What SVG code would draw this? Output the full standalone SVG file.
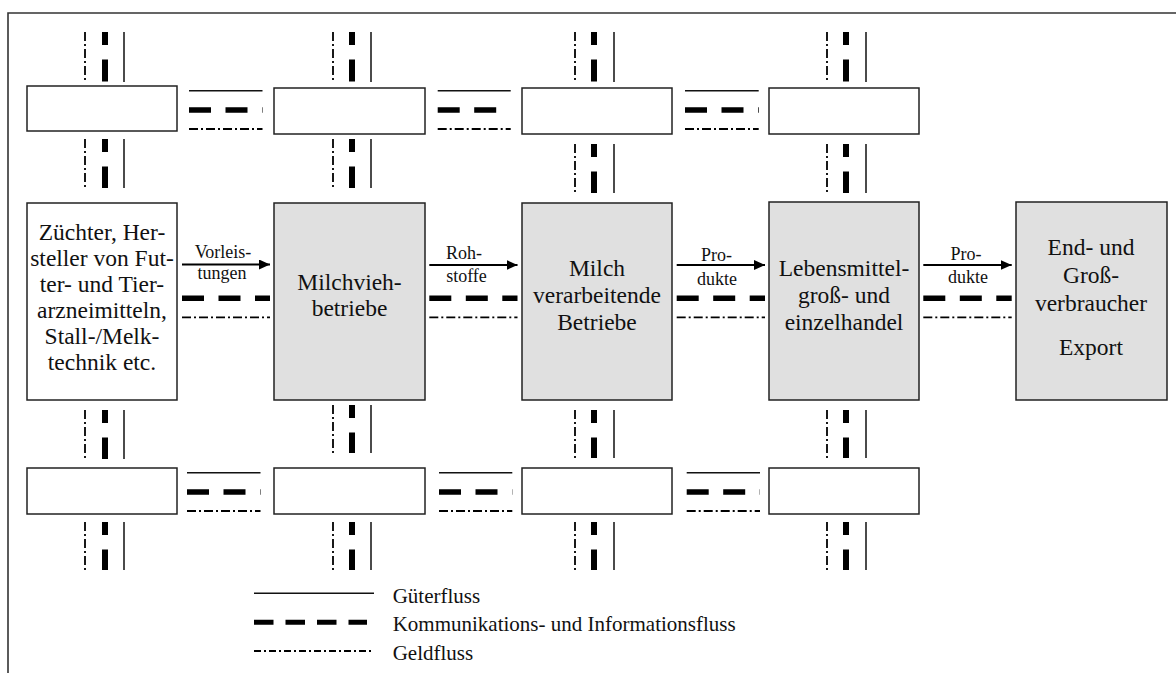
<svg xmlns="http://www.w3.org/2000/svg" width="1176" height="673" viewBox="0 0 1176 673">
<style>
.box{fill:#fff;stroke:#222;stroke-width:1.5}
.gbox{fill:#e0e0e0;stroke:#222;stroke-width:1.5}
.solid{stroke:#111;stroke-width:1.5;fill:none}
.thick{stroke:#000;stroke-width:5.5;stroke-dasharray:22 14.5;fill:none}
.vthick{stroke:#000;stroke-width:6;stroke-dasharray:22 14.5;stroke-dashoffset:9;fill:none}
.dd{stroke:#000;stroke-width:1.8;stroke-dasharray:9 3 2 3;fill:none}
.arr{stroke:#000;stroke-width:2;fill:none;marker-end:url(#ah)}
.t{font-family:"Liberation Serif","Times New Roman",serif;font-size:23.5px;text-anchor:middle;fill:#111}
.l{font-family:"Liberation Serif","Times New Roman",serif;font-size:18px;text-anchor:middle;fill:#111}
.lg{font-family:"Liberation Serif","Times New Roman",serif;font-size:21px;fill:#111}
</style>
<defs>
<marker id="ah" markerWidth="12" markerHeight="10" refX="11" refY="5" orient="auto" markerUnits="userSpaceOnUse"><path d="M0,0 L11,5 L0,10 z" fill="#000"/></marker>
</defs>
<rect width="1176" height="673" fill="#fff"/>
<path d="M8,673 V13 H1176" stroke="#333" stroke-width="1.6" fill="none"/>

<g id="top-a"><rect class="box" x="27" y="86" width="150" height="45"/></g>
<g id="top-b"><rect class="box" x="274" y="88" width="151" height="46"/></g>
<g id="top-c"><rect class="box" x="522" y="88" width="150" height="46"/></g>
<g id="top-d"><rect class="box" x="769" y="88" width="150" height="46"/></g>

<g id="zuechter"><rect class="box" x="27" y="203" width="150" height="197"/>
<text class="t" x="102" y="240">Züchter, Her-</text>
<text class="t" x="102" y="266">steller von Fut-</text>
<text class="t" x="102" y="292">ter- und Tier-</text>
<text class="t" x="102" y="318">arzneimitteln,</text>
<text class="t" x="102" y="344">Stall-/Melk-</text>
<text class="t" x="102" y="370">technik etc.</text></g>
<g id="milchvieh"><rect class="gbox" x="274" y="203" width="151" height="197"/>
<text class="t" x="349.5" y="290">Milchvieh-</text>
<text class="t" x="349.5" y="316">betriebe</text></g>
<g id="verarbeitende"><rect class="gbox" x="522" y="203" width="150" height="197"/>
<text class="t" x="597" y="276">Milch</text>
<text class="t" x="597" y="303">verarbeitende</text>
<text class="t" x="597" y="330">Betriebe</text></g>
<g id="handel"><rect class="gbox" x="769" y="202" width="150" height="198"/>
<text class="t" x="844" y="276">Lebensmittel-</text>
<text class="t" x="844" y="303">groß- und</text>
<text class="t" x="844" y="330">einzelhandel</text></g>
<g id="verbraucher"><rect class="gbox" x="1016" y="202" width="151" height="198"/>
<text class="t" x="1091" y="255">End- und</text>
<text class="t" x="1091" y="283">Groß-</text>
<text class="t" x="1091" y="311">verbraucher</text>
<text class="t" x="1091" y="355">Export</text></g>

<g id="bot-a"><rect class="box" x="27" y="468" width="150" height="46"/></g>
<g id="bot-b"><rect class="box" x="274" y="468" width="151" height="46"/></g>
<g id="bot-c"><rect class="box" x="522" y="468" width="150" height="46"/></g>
<g id="bot-d"><rect class="box" x="769" y="468" width="150" height="46"/></g>

<g id="connectors">
<!-- verticals top above -->
<path class="dd" d="M85,32V82M333,32V82M575,32V82M827,32V82"/>
<path class="vthick" d="M105,32V82M352,32V82M594,32V82M846,32V82"/>
<path class="solid" d="M124,32V82M371,32V82M614,32V82M866,32V82"/>
<!-- verticals top below -->
<path class="dd" d="M85,139V188M333,139V188M575,144V193M827,144V193"/>
<path class="vthick" d="M105,139V188M352,139V188M594,144V193M846,144V193"/>
<path class="solid" d="M124,139V188M371,139V188M614,144V193M866,144V193"/>
<!-- verticals bottom above -->
<path class="dd" d="M85,410V459M333,405V453M575,410V458M827,410V458"/>
<path class="vthick" d="M105,410V459M352,405V453M594,410V458M846,410V458"/>
<path class="solid" d="M124,410V459M371,405V453M614,410V458M866,410V458"/>
<!-- verticals bottom below -->
<path class="dd" d="M85,522V570M333,522V570M575,522V570M827,522V570"/>
<path class="vthick" d="M105,522V570M352,522V570M594,522V570M846,522V570"/>
<path class="solid" d="M124,522V570M371,522V570M614,522V570M866,522V570"/>
<!-- horizontals top row -->
<path class="solid" d="M189,90.7H262.5M437.7,90.7H510.7M685,90.7H758.7"/>
<path class="thick" d="M189,110H262.5M437.7,110H510.7M685,110H758.7"/>
<path class="dd" d="M189,129H262.5M437.7,129H510.7M685,129H758.7"/>
<!-- horizontals bottom row -->
<path class="solid" d="M187,472.7H260.5M439,472.7H512.3M686.7,472.7H760"/>
<path class="thick" d="M187,492H260.5M439,492H512.3M686.7,492H760"/>
<path class="dd" d="M187,511H260.5M439,511H512.3M686.7,511H760"/>
<!-- middle row -->
<path class="arr" d="M182,264.5H270"/>
<path class="arr" d="M429.3,265H517.5"/>
<path class="arr" d="M676.7,265H765"/>
<path class="arr" d="M923.3,265H1011.7"/>
<path class="thick" d="M182,298.3H270M429.3,298.3H517.5M676.7,298.3H765M923.3,298.3H1011.7"/>
<path class="dd" d="M182,317.3H270M429.3,317.3H517.5M676.7,317.3H765M923.3,317.3H1011.7"/>
<text class="l" x="223" y="258">Vorleis-</text>
<text class="l" x="222" y="279">tungen</text>
<text class="l" x="464" y="259">Roh-</text>
<text class="l" x="466.5" y="282">stoffe</text>
<text class="l" x="716.5" y="261">Pro-</text>
<text class="l" x="717" y="285">dukte</text>
<text class="l" x="966" y="260">Pro-</text>
<text class="l" x="968" y="283">dukte</text>
</g>

<g id="legend">
<path class="solid" d="M254,593.3H374"/>
<path d="M254,622.3H367" stroke="#000" stroke-width="5" stroke-dasharray="19.5 12" fill="none"/>
<path d="M254,651H373" stroke="#000" stroke-width="1.8" stroke-dasharray="7 3 2 3" fill="none"/>
<text class="lg" x="392.7" y="603">Güterfluss</text>
<text class="lg" x="392.7" y="631">Kommunikations- und Informationsfluss</text>
<text class="lg" x="392.7" y="660">Geldfluss</text>
</g>
</svg>
